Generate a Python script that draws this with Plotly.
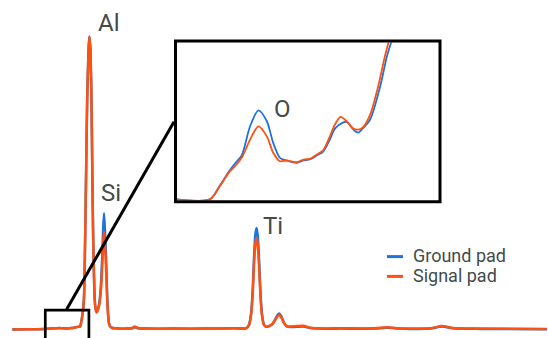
import plotly.graph_objects as go

# ---------------- main spectrum (energy in keV, counts normalised) ----------------
energy = [0.12, 0.40, 0.70, 0.90, 0.96, 1.02, 1.10, 1.18, 1.24, 1.29, 1.33, 1.366, 1.40,
          1.424, 1.441, 1.459, 1.483, 1.497, 1.511, 1.518, 1.536, 1.550, 1.565, 1.595,
          1.612, 1.629, 1.650, 1.670, 1.690, 1.710, 1.728, 1.745, 1.760, 1.775, 1.796,
          1.817, 1.835, 1.849, 1.870, 1.90, 1.95, 2.15, 2.26, 2.31, 2.37, 2.50, 3.00,
          3.60, 4.10, 4.30, 4.353, 4.39, 4.42, 4.442, 4.465, 4.487, 4.509, 4.532, 4.555,
          4.584, 4.62, 4.66, 4.73, 4.78, 4.83, 4.865, 4.895, 4.93, 4.97, 5.02, 5.05,
          5.20, 5.32, 5.45, 5.60, 6.00, 6.60, 6.82, 7.00, 7.60, 7.80, 8.00, 8.50, 9.68]

signal_pad = [0.0, 0.1, 0.2, 0.4, 0.5, 0.4, 0.35, 0.5, 0.7, 0.9, 1.0, 4.0, 10.0,
              33.0, 55.0, 78.5, 95.6, 100.3, 97.5, 95.6, 78.5, 55.0, 33.0, 10.0,
              6.8, 5.8, 6.6, 8.0, 10.5, 15.0, 21.5, 29.5, 33.5, 29.5, 21.5,
              10.0, 4.5, 2.0, 1.0, 0.6, 0.4, 0.3, 0.5, 1.0, 0.5, 0.3, 0.3,
              0.3, 0.4, 0.4, 1.5, 5.0, 12.5, 22.0, 29.0, 31.3, 29.0, 22.0, 12.5,
              5.0, 1.6, 1.0, 1.3, 2.0, 3.5, 4.6, 5.0, 4.2, 2.5, 1.3, 1.0,
              1.2, 1.3, 0.6, 0.4, 0.4, 0.4, 0.75, 0.45, 0.4, 1.2, 0.5, 0.3, 0.2]

ground_pad = [0.0, 0.1, 0.2, 0.4, 0.5, 0.4, 0.35, 0.5, 0.7, 0.9, 1.0, 4.0, 10.0,
              33.0, 55.0, 78.5, 95.6, 100.3, 97.5, 95.6, 78.5, 55.0, 33.0, 10.0,
              6.9, 6.0, 6.9, 8.5, 11.5, 17.0, 25.0, 34.5, 39.8, 34.5, 25.0,
              11.5, 5.0, 2.2, 1.0, 0.6, 0.4, 0.3, 0.4, 0.8, 0.4, 0.3, 0.3,
              0.3, 0.4, 0.4, 1.6, 5.4, 13.8, 24.4, 32.2, 34.7, 32.2, 24.4, 13.8,
              5.4, 1.7, 0.9, 1.3, 2.1, 3.8, 5.0, 5.5, 4.6, 2.6, 1.2, 0.9,
              0.9, 1.0, 0.5, 0.3, 0.3, 0.3, 0.6, 0.35, 0.3, 1.0, 0.4, 0.2, 0.1]

# ---------------- inset: zoom of the low-energy region ----------------
inset_energy_signal = [0.710, 0.808, 0.838, 0.868, 0.883, 0.903, 0.928, 0.953, 0.978, 0.997,
                       1.017, 1.037, 1.067, 1.087, 1.107, 1.127, 1.146, 1.166, 1.181, 1.198,
                       1.216, 1.236, 1.251, 1.266, 1.286, 1.310, 1.330, 1.343, 1.351, 1.360]
inset_signal = [0.0, 0.0, 8.5, 18.0, 21.2, 26.5, 38.1, 46.6, 40.2, 29.7,
                24.3, 24.8, 23.7, 25.4, 25.9, 28.6, 31.3, 40.2, 47.7, 52.6,
                49.8, 45.1, 44.5, 46.2, 54.0, 72.0, 91.1, 101.7, 108.0, 120.8]

inset_energy_ground = [0.710, 0.808, 0.838, 0.868, 0.883, 0.903, 0.928, 0.953, 0.978, 0.997,
                       1.017, 1.037, 1.067, 1.087, 1.107, 1.127, 1.146, 1.166, 1.181, 1.206,
                       1.216, 1.241, 1.251, 1.261, 1.286, 1.316, 1.336, 1.351, 1.360, 1.369]
inset_ground = [0.0, 0.0, 8.9, 18.8, 22.9, 28.0, 46.6, 56.8, 49.8, 36.0,
                26.5, 24.8, 23.3, 24.8, 25.6, 28.0, 30.5, 38.1, 45.1, 49.1,
                49.4, 43.4, 42.6, 44.5, 50.9, 72.0, 91.1, 101.7, 109.3, 120.8]

series_names = ["Ground pad", "Signal pad"]
peak_labels = ["Al", "Si", "Ti", "O"]

BLUE = "#1f72de"
ORANGE = "#ff500f"
TEXT = "#434b4b"
W, H = 548, 338

fig = go.Figure()
fig.add_trace(go.Scatter(x=energy, y=ground_pad, mode="lines", name=series_names[0],
                         line=dict(color=BLUE, width=2.5, shape="spline", smoothing=0.6),
                         showlegend=False, xaxis="x", yaxis="y"))
fig.add_trace(go.Scatter(x=energy, y=signal_pad, mode="lines", name=series_names[1],
                         line=dict(color=ORANGE, width=2.5, shape="spline", smoothing=0.6),
                         showlegend=False, xaxis="x", yaxis="y"))
fig.add_trace(go.Scatter(x=inset_energy_ground, y=inset_ground, mode="lines", name=series_names[0],
                         line=dict(color=BLUE, width=1.8, shape="spline", smoothing=0.8),
                         showlegend=False, xaxis="x2", yaxis="y2"))
fig.add_trace(go.Scatter(x=inset_energy_signal, y=inset_signal, mode="lines", name=series_names[1],
                         line=dict(color=ORANGE, width=1.8, shape="spline", smoothing=0.8),
                         showlegend=False, xaxis="x2", yaxis="y2"))

hidden = dict(visible=False, showgrid=False, zeroline=False, fixedrange=True)
fig.update_layout(
    width=W, height=H,
    margin=dict(l=0, r=0, t=0, b=0),
    paper_bgcolor="white", plot_bgcolor="rgba(0,0,0,0)",
    font=dict(family="Roboto, Arial, sans-serif", color=TEXT),
    xaxis=dict(range=[-0.1, 9.7], domain=[0, 1], **hidden),
    yaxis=dict(range=[-2.91, 112.77], domain=[0, 1], **hidden),
    xaxis2=dict(range=[0.71, 1.49], domain=[177 / W, 438.5 / W], anchor="y2", **hidden),
    yaxis2=dict(range=[-0.5, 100], domain=[1 - 200.2 / H, 1 - 42.5 / H], anchor="x2", **hidden),
    showlegend=False,
)

def px(x):
    return x / W

def py(y):
    return 1 - y / H

shapes = [
    # inset frame
    dict(type="rect", xref="paper", yref="paper", x0=px(175.5), x1=px(440), y0=py(201.7), y1=py(41),
         line=dict(color="black", width=3)),
    # zoom region on the main spectrum
    dict(type="rect", xref="x", yref="y", x0=0.71, x1=1.49, y0=-8, y1=6.6,
         line=dict(color="black", width=2.7)),
    # connector
    dict(type="line", xref="paper", yref="paper", x0=px(66.7), y0=py(309.3), x1=px(174), y1=py(121.7),
         line=dict(color="black", width=3)),
    # legend swatches
    dict(type="line", xref="paper", yref="paper", x0=px(387), x1=px(403), y0=py(256.6), y1=py(256.6),
         line=dict(color=BLUE, width=3)),
    dict(type="line", xref="paper", yref="paper", x0=px(387), x1=px(403), y0=py(276.4), y1=py(276.4),
         line=dict(color=ORANGE, width=3)),
]
fig.update_layout(shapes=shapes)

annotations = [
    dict(text=peak_labels[0], x=px(108.5), y=py(23), font=dict(size=24)),
    dict(text=peak_labels[1], x=px(110.5), y=py(193), font=dict(size=24)),
    dict(text=peak_labels[2], x=px(273), y=py(225.5), font=dict(size=24)),
    dict(text=peak_labels[3], x=px(282), y=py(109), font=dict(size=24)),
    dict(text=series_names[0], x=px(411), y=py(255.5), xanchor="left", font=dict(size=18)),
    dict(text=series_names[1], x=px(411), y=py(275.5), xanchor="left", font=dict(size=18)),
]
for a in annotations:
    a.setdefault("xanchor", "center")
    a.update(xref="paper", yref="paper", yanchor="middle", showarrow=False)
fig.update_layout(annotations=annotations)

fig.write_html("out.html", config={"displayModeBar": False},
               post_script="document.body.style.margin='0';document.body.style.padding='0';")
